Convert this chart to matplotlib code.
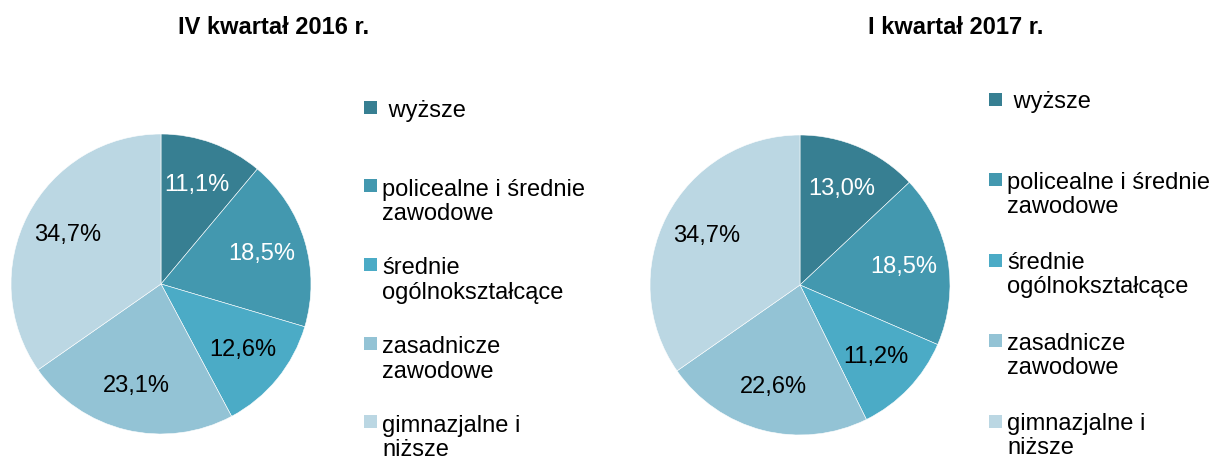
import matplotlib
matplotlib.use("Agg")
import matplotlib.pyplot as plt
from matplotlib.patches import Rectangle

plt.rcParams["font.family"] = ["Liberation Sans", "DejaVu Sans"]

# ── Data ──────────────────────────────────────────────────────────────────────
categories = [
    " wyższe",
    "policealne i średnie\nzawodowe",
    "średnie\nogólnokształcące",
    "zasadnicze\nzawodowe",
    "gimnazjalne i\nniższe",
]
titles = ["IV kwartał 2016 r.", "I kwartał 2017 r."]
values_q4_2016 = [11.1, 18.5, 12.6, 23.1, 34.7]
values_q1_2017 = [13.0, 18.5, 11.2, 22.6, 34.7]

colors = ["#377f92", "#4398af", "#4babc6", "#93c3d5", "#bbd7e3"]
label_colors = ["white", "white", "black", "black", "black"]

W, H = 1214, 457
LINE_H = 24.5   # px between wrapped legend lines
fig = plt.figure(figsize=(W / 100, H / 100), dpi=100)


def px_x(x):
    return x / W


def px_y(y):
    return 1 - y / H


# pie centre (px), radius (px), legend marker x, text x, first item y, step,
# text offset from marker centre
layouts = [
    dict(cx=161, cy=284, r=150, mx=364, tx=382, y0=107, dy=78.7, toff=1.5,
         title_x=274),
    dict(cx=800, cy=285, r=150, mx=989, tx=1007, y0=99, dy=80.5, toff=0.5,
         title_x=956),
]

for values, title, lay in zip([values_q4_2016, values_q1_2017], titles, layouts):
    r = lay["r"]
    ax = fig.add_axes([px_x(lay["cx"] - r), px_y(lay["cy"] + r),
                       2 * r / W, 2 * r / H])
    wedges, _, autotexts = ax.pie(
        values, colors=colors, startangle=90, counterclock=False,
        autopct=lambda p: f"{p:.1f}".replace(".", ",") + "%",
        pctdistance=0.7, radius=1,
        wedgeprops=dict(edgecolor="white", linewidth=0.4),
        textprops=dict(fontsize=17),
    )
    for t, c in zip(autotexts, label_colors):
        t.set_color(c)
    ax.set_xlim(-1, 1)
    ax.set_ylim(-1, 1)
    ax.set_aspect("auto")
    ax.axis("off")

    fig.text(px_x(lay["title_x"]), px_y(27), title, ha="center", va="center",
             fontsize=17, fontweight="bold")

    # legend, one item per category, marker aligned with first text line
    for i, (label, col) in enumerate(zip(categories, colors)):
        y = lay["y0"] + i * lay["dy"]
        fig.patches.append(Rectangle((px_x(lay["mx"]), px_y(y + 6.5)),
                                     13 / W, 13 / H, facecolor=col,
                                     edgecolor="none",
                                     transform=fig.transFigure, figure=fig))
        for k, line in enumerate(label.split("\n")):
            fig.text(px_x(lay["tx"]), px_y(y + lay["toff"] + k * LINE_H), line,
                     ha="left", va="center_baseline", fontsize=17)

fig.savefig("out.png", dpi=100)
